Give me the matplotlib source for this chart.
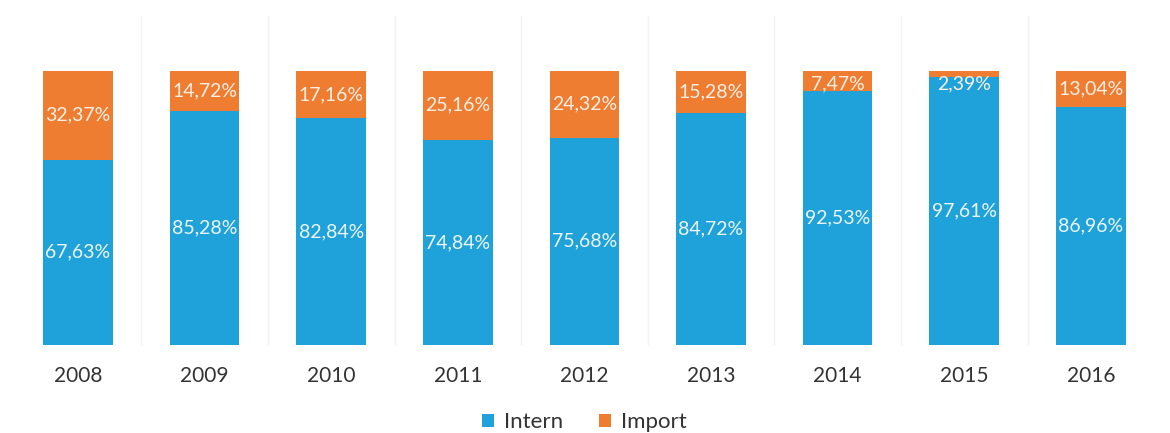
import numpy as np
import matplotlib.pyplot as plt

years = ['2008', '2009', '2010', '2011', '2012', '2013', '2014', '2015', '2016']
intern = [67.63, 85.28, 82.84, 74.84, 75.68, 84.72, 92.53, 97.61, 86.96]
imp = [32.37, 14.72, 17.16, 25.16, 24.32, 15.28, 7.47, 2.39, 13.04]

blue = '#1fa2da'
orange = '#ef7d31'

plt.rcParams['font.family'] = ['Lato', 'DejaVu Sans']

fig = plt.figure(figsize=(11.7, 4.33), dpi=100)
ax = fig.add_axes([0.018, 0.203, 0.963, 0.76])

x = np.arange(len(years))
w = 0.55
ax.bar(x, intern, w, color=blue, label='Intern')
ax.bar(x, imp, w, bottom=intern, color=orange, label='Import')

def fmt(v):
    return ('%.2f' % v).replace('.', ',') + '%'

for i in range(len(years)):
    top = intern[i] + imp[i]
    ax.text(x[i], intern[i] / 2, fmt(intern[i]), ha='center', va='center',
            color='#eef6fb', fontsize=14)
    # small segments: label sits just under the bar top
    yi = min(intern[i] + imp[i] / 2, top - 4.7)
    ax.text(x[i], yi, fmt(imp[i]), ha='center', va='center',
            color='#fbefe6', fontsize=14)

# faint separators between categories
for b in np.arange(0.5, len(years) - 1, 1):
    ax.axvline(b, color='#f2f2f2', lw=1, zorder=0)

ax.set_xlim(-0.45, len(years) - 0.55)
ax.set_ylim(0, 120)
ax.set_xticks(x)
ax.set_xticklabels(years, fontsize=15, color='#333333')
ax.tick_params(axis='x', length=0, pad=15)
ax.set_yticks([])
for s in ax.spines.values():
    s.set_visible(False)

ax.legend(loc='center', bbox_to_anchor=(0.5, -0.235), ncol=2, frameon=False,
          fontsize=16, handlelength=0.55, handleheight=0.55, handletextpad=0.45,
          columnspacing=1.6, labelcolor='#333333')

plt.savefig('out.png', dpi=100)
